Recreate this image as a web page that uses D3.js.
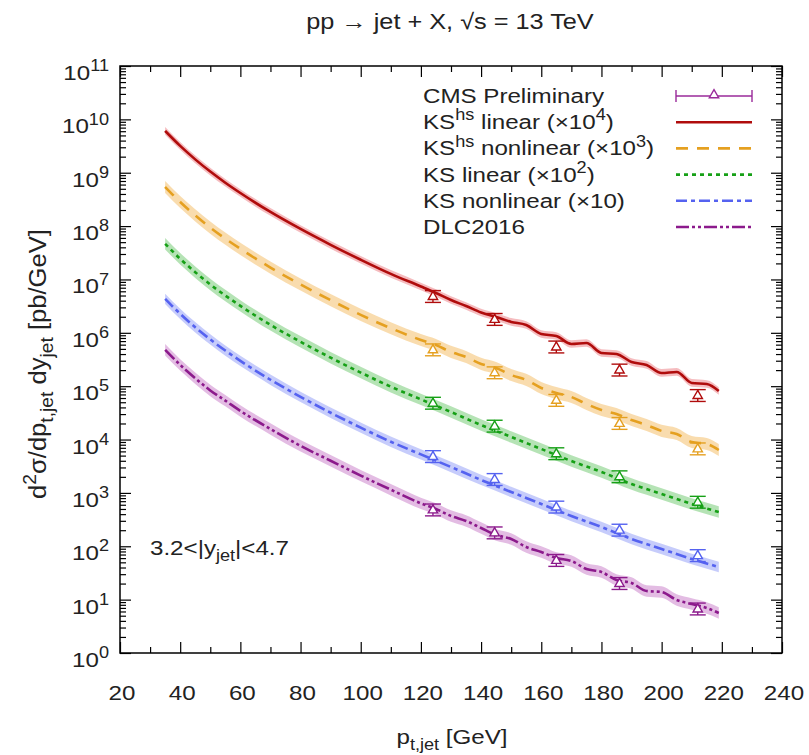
<!DOCTYPE html>
<html><head><meta charset="utf-8">
<script src="https://cdn.jsdelivr.net/npm/d3@7"></script>
<style>body{margin:0;background:#fff}svg{display:block}</style>
</head><body>
<svg id="c" width="809" height="755"></svg>
<script>
// ---------------- data ----------------
const ptFine = [35,40,45,50,55,60,70,80,90,100,110,120,125,130,135,140,145,150,155,160,165,170,175,180,185,190,195,200,205,210,215,219];
const ptGrid = [35,40,45,50,55,60,70,80,90,100,110,120,130,140,150,160,170,180,190,200,210,219];

const ksHsLinear = [6.07e9,3.18e9,1.78e9,1.05e9,6.50e8,4.17e8,1.84e8,8.83e7,4.46e7,2.34e7,1.27e7,7.38e6,5.58e6,4.12e6,3.18e6,2.40e6,1.98e6,1.60e6,1.40e6,9.51e5,8.73e5,6.18e5,6.45e5,4.19e5,4.01e5,2.84e5,2.50e5,1.77e5,1.85e5,1.15e5,1.10e5,8.13e4];
const ksHsNonlinear = [5.41e8,2.83e8,1.59e8,9.38e7,5.82e7,3.75e7,1.67e7,8.05e6,4.09e6,2.17e6,1.22e6,7.34e5,5.92e5,4.38e5,3.52e5,2.61e5,2.19e5,1.62e5,1.31e5,9.25e4,7.45e4,6.27e4,4.64e4,3.58e4,3.01e4,2.32e4,1.87e4,1.45e4,1.27e4,9.0e3,8.26e3,6.37e3];
const ksLinear = [4.66e7,2.44e7,1.37e7,8.07e6,4.99e6,3.20e6,1.41e6,6.78e5,3.42e5,1.80e5,9.77e4,5.66e4,3.28e4,1.87e4,1.12e4,6.65e3,3.96e3,2.47e3,1.47e3,955,620,439];
const ksNonlinear = [4.34e6,2.27e6,1.27e6,7.52e5,4.65e5,2.98e5,1.32e5,6.31e4,3.18e4,1.67e4,9.10e3,5.27e3,3.06e3,1.75e3,1.04e3,620,369,230,137,88.9,57.8,40.9];
const dlc2016 = [4.80e5,2.51e5,1.41e5,8.32e4,5.36e4,3.44e4,1.58e4,7.62e3,4.01e3,2.11e3,1.15e3,637,500,369,298,220,163,137,96.9,78.1,60.3,53.0,37.5,33.0,23.3,20.5,14.5,13.9,9.84,8.28,6.97,5.62];

const bandFactor = [1.18,1.3,1.28,1.25,1.28];
const scaleFactor = [1e4,1e3,1e2,10,1];

const cmsPt = [124,144.5,165,186,212];
const cmsVal = [495,184,56,20.7,6.9];
const cmsErr = [0.25,0.25,0.25,0.25,0.25];

const xTicks = [20,40,60,80,100,120,140,160,180,200,220,240];
const yExp = [0,1,2,3,4,5,6,7,8,9,10,11];

// ---------------- setup ----------------
const svg = d3.select('#c');
const L=120,R=782,T=66,B=653;
const x = d3.scaleLinear().domain([20,240]).range([L,R]);
const y = d3.scaleLog().domain([1,1e11]).range([B,T]);
const FONT = '"Liberation Sans", Arial, Helvetica, sans-serif';
const FS = 21, SX = 1.15;

function rich(parent, px, py, segs, opt={}) {
  const anchor = opt.anchor || 'start';
  const fs = opt.size || FS;
  const tf = opt.transform || `scale(${SX},1)`;
  const t = parent.append('text')
    .attr('transform', `translate(${px},${py}) ${tf}`)
    .attr('text-anchor', anchor)
    .attr('font-family', FONT).attr('font-size', fs).attr('fill', '#222');
  let shift = 0;
  segs.forEach(s => {
    let target = 0, size = fs;
    if (s.sup) { target = -0.42*fs; size = 0.75*fs; }
    if (s.sub) { target = 0.28*fs; size = 0.75*fs; }
    t.append('tspan').attr('dy', target - shift).attr('font-size', size).text(s.t);
    shift = target;
  });
  return t;
}

const series = [
  {name:[{t:'KS'},{t:'hs',sup:1},{t:' linear (×10'},{t:'4',sup:1},{t:')'}], pt:ptFine, v:ksHsLinear, color:'#b00c0c', band:'#f3b0b4', dash:null},
  {name:[{t:'KS'},{t:'hs',sup:1},{t:' nonlinear (×10'},{t:'3',sup:1},{t:')'}], pt:ptFine, v:ksHsNonlinear, color:'#e5a020', band:'#f8d6a0', dash:'12,9'},
  {name:[{t:'KS linear (×10'},{t:'2',sup:1},{t:')'}], pt:ptGrid, v:ksLinear, color:'#16a016', band:'#a8dea8', dash:'4,4'},
  {name:[{t:'KS nonlinear (×10)'}], pt:ptGrid, v:ksNonlinear, color:'#5562f0', band:'#bcc3fa', dash:'11,4,4,4'},
  {name:[{t:'DLC2016'}], pt:ptFine, v:dlc2016, color:'#8c1a8c', band:'#deb0de', dash:'13,3,3,3,3,3'}
];

// bands
series.forEach((s,i) => {
  const pts = s.pt.map((p,j)=>({p, v:s.v[j]}));
  const f = bandFactor[i];
  svg.append('path').datum(pts)
    .attr('d', d3.area().x(d=>x(d.p)).y0(d=>y(d.v/f)).y1(d=>y(d.v*f)).curve(d3.curveMonotoneX))
    .attr('fill', s.band).attr('opacity', 0.85);
});
// lines
series.forEach((s,i) => {
  const pts = s.pt.map((p,j)=>({p, v:s.v[j]}));
  svg.append('path').datum(pts)
    .attr('d', d3.line().x(d=>x(d.p)).y(d=>y(d.v)).curve(d3.curveMonotoneX))
    .attr('fill','none').attr('stroke', s.color).attr('stroke-width', 2.6)
    .attr('stroke-dasharray', s.dash);
});
// data points
const tri = d3.symbol().type(d3.symbolTriangle).size(38);
series.forEach((s,i) => {
  const g = svg.append('g').attr('stroke', s.color).attr('fill','none').attr('stroke-width',1.4);
  cmsPt.forEach((p,j) => {
    const v = cmsVal[j]*scaleFactor[i];
    const e = cmsErr[j];
    const cx = x(p), yl = y(v*(1-e)), yh = y(v*(1+e));
    g.append('line').attr('x1',cx).attr('x2',cx).attr('y1',yl).attr('y2',yh);
    g.append('line').attr('x1',cx-8).attr('x2',cx+8).attr('y1',yl).attr('y2',yl);
    g.append('line').attr('x1',cx-8).attr('x2',cx+8).attr('y1',yh).attr('y2',yh);
    g.append('path').attr('d', tri()).attr('transform',`translate(${cx},${y(v)+1})`).attr('fill','#fff');
  });
});

// axes (gnuplot style, inward ticks on all sides)
const minorY = [];
yExp.slice(0,-1).forEach(k => { for (let m=2;m<=9;m++) minorY.push(m*Math.pow(10,k)); });
const minorX = d3.range(30,240,20);
function styleAxis(g){ g.select('.domain').remove(); g.selectAll('line').attr('stroke','#000').attr('stroke-width',1.2); g.selectAll('text').remove(); }
svg.append('g').attr('transform',`translate(0,${B})`).call(d3.axisBottom(x).tickValues(xTicks).tickSize(-11)).call(styleAxis);
svg.append('g').attr('transform',`translate(0,${B})`).call(d3.axisBottom(x).tickValues(minorX).tickSize(-6)).call(styleAxis);
svg.append('g').attr('transform',`translate(0,${T})`).call(d3.axisTop(x).tickValues(xTicks).tickSize(-11)).call(styleAxis);
svg.append('g').attr('transform',`translate(0,${T})`).call(d3.axisTop(x).tickValues(minorX).tickSize(-6)).call(styleAxis);
const majorY = yExp.map(k=>Math.pow(10,k));
svg.append('g').attr('transform',`translate(${L},0)`).call(d3.axisLeft(y).tickValues(majorY).tickSize(-11)).call(styleAxis);
svg.append('g').attr('transform',`translate(${L},0)`).call(d3.axisLeft(y).tickValues(minorY).tickSize(-6)).call(styleAxis);
svg.append('g').attr('transform',`translate(${R},0)`).call(d3.axisRight(y).tickValues(majorY).tickSize(-11)).call(styleAxis);
svg.append('g').attr('transform',`translate(${R},0)`).call(d3.axisRight(y).tickValues(minorY).tickSize(-6)).call(styleAxis);
svg.append('rect').attr('x',L).attr('y',T).attr('width',R-L).attr('height',B-T)
  .attr('fill','none').attr('stroke','#000').attr('stroke-width',1.5);

// tick labels
xTicks.forEach(v => rich(svg, x(v)+2, 700, [{t:String(v)}], {anchor:'middle'}));
yExp.forEach(k => rich(svg, 109, y(Math.pow(10,k))+14, [{t:'10'},{t:String(k),sup:1}], {anchor:'end'}));

// titles
rich(svg, 450, 29, [{t:'pp → jet + X, √s = 13 TeV'}], {anchor:'middle', size:22});
rich(svg, 452, 744, [{t:'p'},{t:'t,jet',sub:1},{t:' [GeV]'}], {anchor:'middle'});
rich(svg, 46, 364, [{t:'d'},{t:'2',sup:1},{t:'σ/dp'},{t:'t,jet',sub:1},{t:' dy'},{t:'jet',sub:1},{t:' [pb/GeV]'}],
  {anchor:'middle', transform:'rotate(-90) scale(1.22,1.12)'});
rich(svg, 150, 555, [{t:'3.2<|y'},{t:'jet',sub:1},{t:'|<4.7'}]);

// legend
const legX = 423, lx1 = 676, lx2 = 752;
const rowY = i => 96 + 26.2*i;
rich(svg, legX, rowY(0)+7, [{t:'CMS Preliminary'}]);
const cg = svg.append('g').attr('stroke','#9a2a9a').attr('fill','none').attr('stroke-width',1.4);
cg.append('line').attr('x1',lx1).attr('x2',lx2).attr('y1',rowY(0)).attr('y2',rowY(0));
cg.append('line').attr('x1',lx1).attr('x2',lx1).attr('y1',rowY(0)-6).attr('y2',rowY(0)+6);
cg.append('line').attr('x1',lx2).attr('x2',lx2).attr('y1',rowY(0)-6).attr('y2',rowY(0)+6);
cg.append('path').attr('d',tri()).attr('transform',`translate(${(lx1+lx2)/2},${rowY(0)-1})`).attr('fill','#fff');
series.forEach((s,i) => {
  const yy = rowY(i+1);
  rich(svg, legX, yy+7, s.name);
  svg.append('line').attr('x1',lx1).attr('x2',lx2).attr('y1',yy).attr('y2',yy)
    .attr('stroke',s.color).attr('stroke-width',2.6).attr('stroke-dasharray',s.dash);
});
</script>
</body></html>
